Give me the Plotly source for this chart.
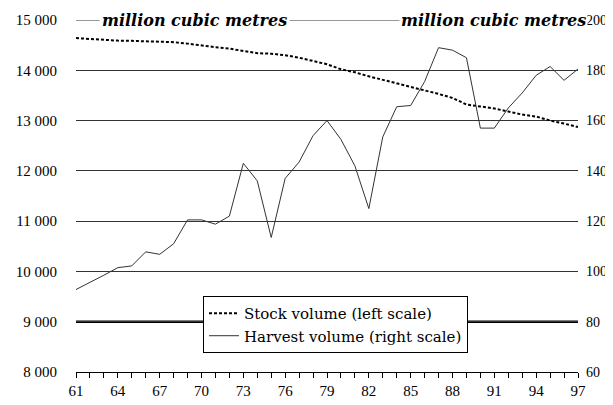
import plotly.graph_objects as go

years = list(range(61, 98))
stock_volume = [14640, 14620, 14600, 14590, 14585, 14580, 14575, 14560, 14530, 14490,
                14460, 14430, 14390, 14340, 14330, 14300, 14250, 14190, 14120, 14020,
                13960, 13880, 13810, 13750, 13680, 13600, 13530, 13450, 13320, 13280,
                13240, 13180, 13120, 13080, 13000, 12940, 12870]
harvest_volume = [92.8, 95.5, 98.5, 101.5, 102.2, 107.8, 106.8, 111, 120.5, 120.5,
                  118.8, 122, 143, 136, 113.5, 137, 143.5, 154, 160, 152.5,
                  142, 125, 153.5, 165.5, 166, 175.5, 189, 188, 185, 157,
                  157, 165, 171, 178, 181.5, 176, 180.5]
left_ticks = [8000, 9000, 10000, 11000, 12000, 13000, 14000, 15000]
left_labels = ["8 000", "9 000", "10 000", "11 000", "12 000", "13 000", "14 000", "15 000"]
right_ticks = [60, 80, 100, 120, 140, 160, 180, 200]
x_ticks = list(range(61, 98, 3))
unit_label = "million cubic metres"

FONT = "Liberation Serif"
LEG_FONT = "DejaVu Serif"

fig = go.Figure()
fig.add_trace(go.Scatter(x=years, y=stock_volume, mode="lines",
                         name="Stock volume (left scale)",
                         line=dict(color="black", width=2, dash="3px,2px")))
fig.add_trace(go.Scatter(x=years, y=harvest_volume, mode="lines",
                         name="Harvest volume (right scale)", yaxis="y2",
                         line=dict(color="#333333", width=1)))

# top gridline (at the range edge) and thicker 9000 gridline
fig.add_shape(type="line", xref="paper", x0=0, x1=1, yref="y", y0=15000, y1=15000,
              line=dict(color="#333333", width=1), layer="below")
fig.add_shape(type="line", xref="paper", x0=0, x1=1, yref="y", y0=9000, y1=9000,
              line=dict(color="black", width=2.5), layer="below")

# page body has an 8px default margin, so the figure is 8px smaller
fig.update_layout(
    width=605, height=397,
    margin=dict(l=68, r=35, t=12, b=33, autoexpand=False),
    paper_bgcolor="white", plot_bgcolor="white",
    font=dict(family=FONT, size=15, color="black"),
    showlegend=True,
    legend=dict(x=0.253, y=0.216, xanchor="left", yanchor="top",
                bgcolor="white", bordercolor="black", borderwidth=1,
                font=dict(family=LEG_FONT, size=15), tracegroupgap=0),
    xaxis=dict(range=[61, 97], tickvals=x_ticks, ticks="outside", ticklen=5,
               tickcolor="black", showline=True, linecolor="black", linewidth=1,
               showgrid=False, zeroline=False, automargin=False,
               minor=dict(dtick=1, tick0=61, ticks="outside", ticklen=5, tickcolor="black", showgrid=False),
               tickfont=dict(family=FONT, size=15)),
    yaxis=dict(range=[8000, 15000], tickvals=left_ticks, ticktext=left_labels,
               showgrid=True, gridcolor="#333333", gridwidth=1, zeroline=False,
               showline=False, ticks="", ticklabelstandoff=18, automargin=False,
               tickfont=dict(family=FONT, size=15)),
    yaxis2=dict(range=[60, 200], tickvals=right_ticks, overlaying="y", side="right",
                showgrid=False, zeroline=False, showline=False, ticks="",
                ticklabelstandoff=7, automargin=False,
                tickfont=dict(family=FONT, size=14)),
)

fig.add_annotation(text="<b><i>" + unit_label + "</i></b>", xref="paper", yref="paper",
                   x=0.045, y=1.0, xanchor="left", yanchor="middle", showarrow=False,
                   bgcolor="white", borderpad=2,
                   font=dict(family=LEG_FONT, size=16, color="black"))
fig.add_annotation(text="<b><i>" + unit_label + "</i></b>", xref="paper", yref="paper",
                   x=1.02, y=1.0, xanchor="right", yanchor="middle", showarrow=False,
                   bgcolor="white", borderpad=1,
                   font=dict(family=LEG_FONT, size=16, color="black"))

fig.write_html("out.html")
